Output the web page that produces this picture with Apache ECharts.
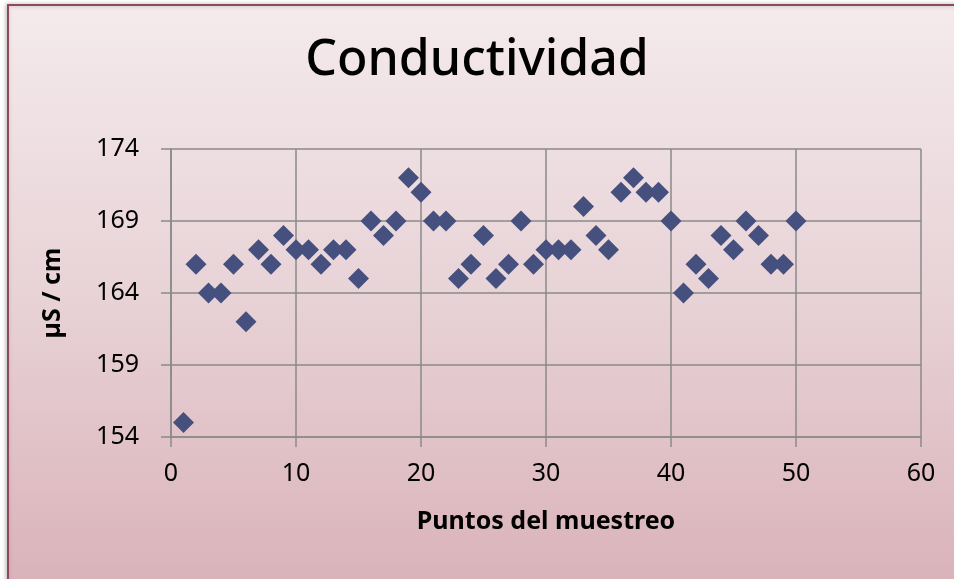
<!DOCTYPE html>
<html>
<head>
<meta charset="utf-8">
<script src="https://cdn.jsdelivr.net/npm/echarts@6/dist/echarts.min.js"></script>
<style>
html,body{margin:0;padding:0;background:#ffffff;overflow:hidden;}
#chart{width:954px;height:579px;}
</style>
</head>
<body>
<div id="chart"></div>
<script>
// Data
const samplePoints = [1,2,3,4,5,6,7,8,9,10,11,12,13,14,15,16,17,18,19,20,21,22,23,24,25,26,27,28,29,30,31,32,33,34,35,36,37,38,39,40,41,42,43,44,45,46,47,48,49,50];
const conductivity = [155,166,164,164,166,162,167,166,168,167,167,166,167,167,165,169,168,169,172,171,169,169,165,166,168,165,166,169,166,167,167,167,170,168,167,171,172,171,171,169,164,166,165,168,167,169,168,166,166,169];
const chartTitle = 'Conductividad';
const xAxisName = 'Puntos del muestreo';
const yAxisName = 'µS / cm';

const FONT = '"Noto Sans", "DejaVu Sans", sans-serif';
const chart = echarts.init(document.getElementById('chart'));

chart.setOption({
  backgroundColor: '#ffffff',
  animation: false,
  graphic: [{
    type: 'rect',
    z: -10,
    silent: true,
    shape: {x: 8, y: 5, width: 1000, height: 1000},
    style: {
      fill: new echarts.graphic.LinearGradient(0, 5, 0, 579, [
        {offset: 0, color: '#f4eaec'},
        {offset: 0.5, color: '#e8d3d7'},
        {offset: 1, color: '#dab3ba'}
      ], true),
      stroke: '#8e4a5c',
      lineWidth: 2,
      shadowBlur: 4,
      shadowColor: 'rgba(0,0,0,0.25)',
      shadowOffsetX: -1
    }
  }],
  title: {
    text: chartTitle,
    left: 'center',
    top: 31,
    textStyle: {fontFamily: FONT, fontSize: 50, fontWeight: 500, color: '#000000'}
  },
  grid: {left: 171, right: 33, top: 149, bottom: 142},
  xAxis: {
    type: 'value',
    min: 0, max: 60, interval: 10,
    name: xAxisName,
    nameLocation: 'middle',
    nameGap: 72,
    nameTextStyle: {fontFamily: FONT, fontSize: 25, fontWeight: 'bold', color: '#000000'},
    axisLine: {show: true, lineStyle: {color: '#8a8a8a', width: 1.5}},
    axisTick: {show: true, length: 10, lineStyle: {color: '#8a8a8a', width: 1.5}},
    axisLabel: {fontFamily: FONT, fontSize: 25, color: '#000000', margin: 24},
    splitLine: {show: true, lineStyle: {color: '#8a8a8a', width: 1.5}}
  },
  yAxis: {
    type: 'value',
    min: 154, max: 174, interval: 5,
    name: yAxisName,
    nameLocation: 'middle',
    nameGap: 106,
    nameRotate: 90,
    nameTextStyle: {fontFamily: FONT, fontSize: 25, fontWeight: 'bold', color: '#000000'},
    axisLine: {show: true, lineStyle: {color: '#8a8a8a', width: 1.5}},
    axisTick: {show: true, length: 10, lineStyle: {color: '#8a8a8a', width: 1.5}},
    axisLabel: {fontFamily: FONT, fontSize: 25, color: '#000000', margin: 32},
    splitLine: {show: true, lineStyle: {color: '#8a8a8a', width: 1.5}}
  },
  series: [{
    type: 'scatter',
    symbol: 'diamond',
    symbolSize: 21,
    itemStyle: {color: '#45507f', opacity: 1},
    data: samplePoints.map((x, i) => [x, conductivity[i]])
  }]
});
</script>
</body>
</html>
